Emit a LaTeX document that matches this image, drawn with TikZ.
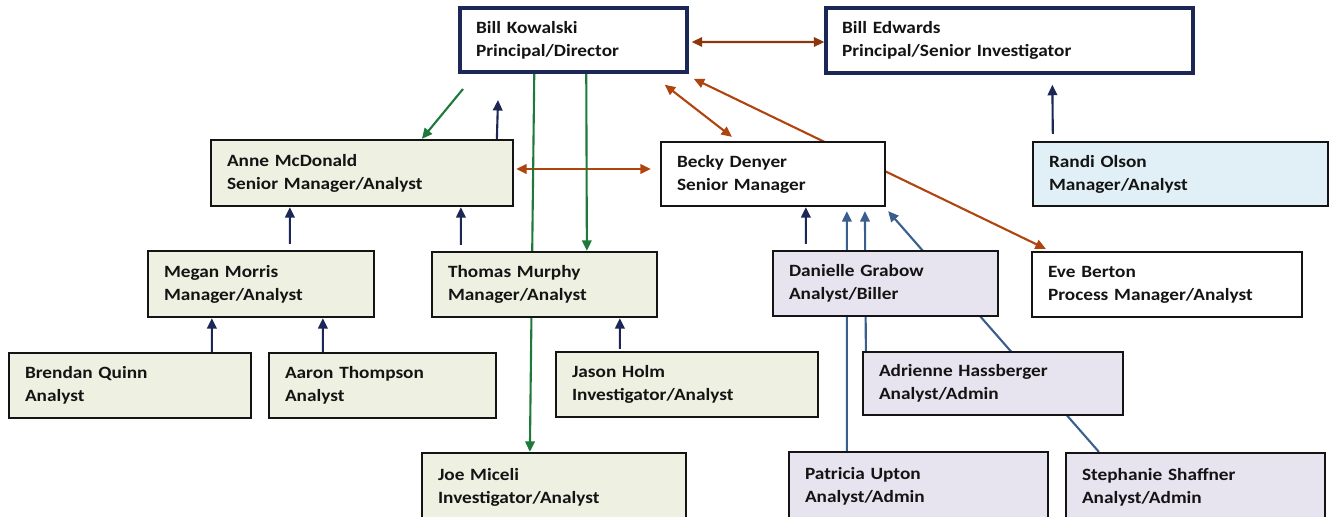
\documentclass[tikz,border=0pt]{standalone}
\usepackage{fontspec}
\setmainfont{Carlito}[FakeStretch=1.12]
\usetikzlibrary{arrows.meta,calc,backgrounds}

\begin{document}
\begin{tikzpicture}[x=0.02cm, y=-0.02cm, >={Triangle[length=2.1mm,width=1.9mm]},
  staff/.style={draw=ink, line width=1.3pt, align=left, inner xsep=0.32cm, inner ysep=0pt,
    minimum height=1.3cm, font=\fontsize{9.8}{13.1}\selectfont\bfseries, text=ink},
  principal/.style={staff, draw=navy, line width=2pt, fill=white},
  plain/.style={staff, fill=white},
  sage/.style={staff, fill=sagefill},
  lilac/.style={staff, fill=lilacfill},
  sky/.style={staff, fill=skyfill},
  report/.style={->, draw=navy, line width=1.2pt},
  lead/.style={->, draw=leafgreen, line width=1.2pt},
  peer/.style={<->, draw=rust, line width=1.2pt},
  clerk/.style={->, draw=steel, line width=1.2pt}]
  \definecolor{ink}{HTML}{141414}
  \definecolor{navy}{HTML}{1C2755}
  \definecolor{sagefill}{HTML}{EEF1E1}
  \definecolor{lilacfill}{HTML}{E7E3EF}
  \definecolor{skyfill}{HTML}{E1F0F6}
  \definecolor{leafgreen}{HTML}{1E7A3A}
  \definecolor{rust}{HTML}{B0440F}
  \definecolor{steel}{HTML}{3A5F8E}
  \useasboundingbox (0,0) rectangle (1330,517);

  % principals
  \node[principal, text width=3.90cm, minimum height=1.28cm] (bk) at (573.5,40) {Bill Kowalski\\Principal/Director};
  \node[principal, text width=6.70cm] (be) at (1009.5,40.5) {Bill Edwards\\Principal/Senior Investigator};

  % managers
  \node[sage, text width=5.40cm, minimum height=1.32cm] (anne) at (362,173) {Anne McDonald\\Senior Manager/Analyst};
  \node[plain, text width=3.84cm, minimum height=1.28cm] (becky) at (773,174) {Becky Denyer\\Senior Manager};
  \node[sky, text width=5.26cm, minimum height=1.28cm] (randi) at (1180.5,174) {Randi Olson\\Manager/Analyst};
  \node[sage, text width=3.88cm, minimum height=1.32cm] (megan) at (261,284) {Megan Morris\\Manager/Analyst};
  \node[sage, text width=3.86cm] (thomas) at (544.5,284.5) {Thomas Murphy\\Manager/Analyst};
  \node[lilac, text width=3.86cm] (danielle) at (885.5,283.5) {Danielle Grabow\\Analyst/Biller};
  \node[plain, text width=4.76cm] (eve) at (1167,284.5) {Eve Berton\\Process Manager/Analyst};

  % analysts
  \node[sage, text width=4.20cm] (brendan) at (130,385.5) {Brendan Quinn\\Analyst};
  \node[sage, text width=3.90cm] (aaron) at (382.5,385.5) {Aaron Thompson\\Analyst};
  \node[sage, text width=4.60cm] (jason) at (687,384.5) {Jason Holm\\Investigator/Analyst};
  \node[lilac, text width=4.56cm, minimum height=1.26cm] (adrienne) at (993,383.5) {Adrienne Hassberger\\Analyst/Admin};
  \node[sage, text width=4.64cm, minimum height=1.36cm] (joe) at (554,487) {Joe Miceli\\Investigator/Analyst};
  \node[lilac, text width=4.54cm, minimum height=1.36cm] (patricia) at (918.5,486) {Patricia Upton\\Analyst/Admin};
  \node[lilac, text width=4.54cm, minimum height=1.36cm] (stephanie) at (1195.5,487) {Stephanie Shaffner\\Analyst/Admin};

  \coordinate (gfrom) at (463,89);
  \coordinate (uptip) at (498,100);

  \begin{scope}[on background layer]
    % peers
    \draw[peer, draw=rust!80!black] ($(bk.east)+(3,2)$) -- ($(be.west)+(0,1.5)$);
    \draw[peer] ($(bk.south east)+(-24,11)$) -- ($(becky.north west)+(72,-4)$);
    \draw[peer] ($(bk.south east)+(5,5)$) -- ($(eve.north west)+(15,-2)$);
    \draw[peer] ($(anne.east)+(2,-4)$) -- ($(becky.west)+(-9,-5)$);
    % lines of direction
    \draw[lead] (gfrom) -- ($(anne.north west)+(212,0)$);
    \draw[lead] ($(bk.south west)+(76,0)$) -- ($(joe.north west)+(109,0)$);
    \draw[lead] ($(bk.south west)+(128,0)$) -- ($(thomas.north west)+(156,0)$);
    % reporting
    \draw[report] ($(anne.north west)+(287,0)$) -- (uptip);
    \draw[report, shorten <=0.12cm] ($(megan.north west)+(143,0)$) -- ($(anne.south west)+(80,0)$);
    \draw[report, shorten <=0.12cm] ($(thomas.north west)+(30,0)$) -- ($(anne.south west)+(251,0)$);
    \draw[report] ($(brendan.north west)+(204,0)$) -- ($(megan.south west)+(65,0)$);
    \draw[report] ($(aaron.north west)+(55,0)$) -- ($(megan.south west)+(176,0)$);
    \draw[report, shorten <=0.04cm] ($(jason.north west)+(65,0)$) -- ($(thomas.south west)+(189,0)$);
    \draw[report, shorten <=0.14cm, shorten >=0.2cm] ($(randi.north west)+(21,0)$) -- ($(be.south west)+(228,0)$);
    \draw[report, shorten <=0.12cm] ($(danielle.north west)+(34,0)$) -- ($(becky.south west)+(146,0)$);
    \draw[clerk, shorten >=0.08cm] ($(patricia.north west)+(59,0)$) -- ($(becky.south west)+(187,0)$);
    \draw[clerk, shorten >=0.08cm] ($(adrienne.north west)+(4,0)$) -- ($(becky.south west)+(205,0)$);
    \draw[clerk] ($(stephanie.north west)+(34,0)$) -- ($(becky.south east)+(2,4)$);
  \end{scope}
\end{tikzpicture}
\end{document}
